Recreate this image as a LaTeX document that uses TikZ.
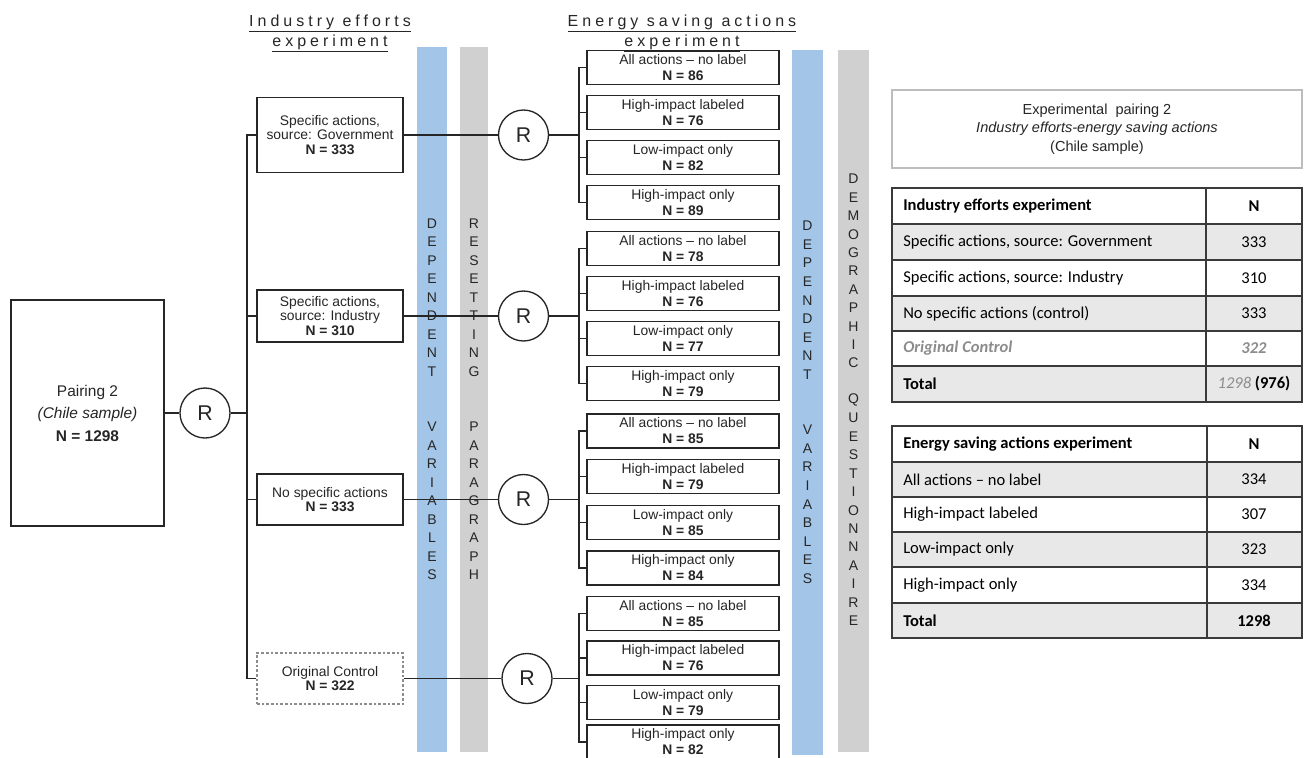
\documentclass[tikz,border=0pt]{standalone}
\usepackage{fontspec}
\setmainfont{Liberation Sans}
\newfontfamily\calfont[Ligatures=TeX]{Carlito}
\newfontfamily\spacedfont[LetterSpace=25]{Liberation Sans}
\usetikzlibrary{calc}

\definecolor{barblue}{HTML}{A3C6E8}
\definecolor{bargray}{HTML}{D0D0D0}
\definecolor{rowgray}{HTML}{E8E8E8}
\definecolor{ink}{HTML}{262626}
\definecolor{softgray}{HTML}{8C8C8C}
\definecolor{framegray}{HTML}{BDBDBD}
\definecolor{tabline}{HTML}{3A3A3A}

\tikzset{
  boxtext/.style={font=\fontsize{10.4}{10.6}\selectfont, text=ink, align=center, inner sep=0pt},
  ibox/.style={boxtext, draw=ink, line width=1pt, minimum width=109.5pt},
  ebox/.style={boxtext, draw=ink, line width=1.1pt, minimum width=144pt, minimum height=25.5pt,
    font=\fontsize{10.4}{12}\selectfont},
  rnode/.style={circle, draw=ink, line width=1pt, fill=white, minimum size=37.5pt, inner sep=0pt,
    font=\fontsize{16}{16}\selectfont, text=ink},
  conn/.style={draw=ink, line width=1pt},
  barletter/.style={font=\fontsize{10.5}{10.5}\selectfont, text=ink, inner sep=0pt},
  headtext/.style={font=\spacedfont\fontsize{12}{12}\selectfont, text=ink, inner sep=0pt, anchor=base},
  tcell/.style={font=\calfont\fontsize{12.4}{12.4}\selectfont, text=black, inner sep=0pt},
  tabrule/.style={draw=tabline, line width=1.1pt}
}

\begin{document}
\begin{tikzpicture}[x=0.75pt, y=-0.75pt]
\useasboundingbox (0,0) rectangle (1306,757);
\clip (0,0) rectangle (1306,757);
\fill[white] (0,0) rectangle (1306,757);

% column headings
\node[headtext] (h1a) at (330,26) {\underline{Industry efforts}};
\node[headtext] (h1b) at (330,46.5) {\underline{experiment}};
\node[headtext] (h2a) at (682,26) {\underline{Energy saving actions}};
\node[headtext] (h2b) at (682,46.5) {\underline{experiment}};

% vertical bands
\fill[barblue] (417,47) rectangle (447,752);
\fill[bargray] (460,47) rectangle (488,752);
\fill[barblue] (792,50) rectangle (823,755);
\fill[bargray] (838,50) rectangle (869,752);

\foreach \c [count=\i from 0] in {D,E,P,E,N,D,E,N,T}
  \node[barletter] (dva\i) at (432,{223.5+\i*18.5}) {\c};
\foreach \c [count=\i from 0] in {V,A,R,I,A,B,L,E,S}
  \node[barletter] (vva\i) at (432,{427+\i*18.5}) {\c};
\foreach \c [count=\i from 0] in {R,E,S,E,T,T,I,N,G}
  \node[barletter] (rsa\i) at (474,{223.5+\i*18.5}) {\c};
\foreach \c [count=\i from 0] in {P,A,R,A,G,R,A,P,H}
  \node[barletter] (pga\i) at (474,{427+\i*18.5}) {\c};
\foreach \c [count=\i from 0] in {D,E,P,E,N,D,E,N,T}
  \node[barletter] (dvb\i) at (807.5,{226+\i*18.55}) {\c};
\foreach \c [count=\i from 0] in {V,A,R,I,A,B,L,E,S}
  \node[barletter] (vvb\i) at (807.5,{430+\i*18.55}) {\c};
\foreach \c [count=\i from 0] in {D,E,M,O,G,R,A,P,H,I,C}
  \node[barletter] (dmg\i) at (853.5,{179+\i*18.4}) {\c};
\foreach \c [count=\i from 0] in {Q,U,E,S,T,I,O,N,N,A,I,R,E}
  \node[barletter] (qst\i) at (853.5,{399.8+\i*18.4}) {\c};

% full sample and first randomisation
\node[ibox, minimum width=114.75pt, minimum height=169.5pt, font=\fontsize{11.6}{16.9}\selectfont]
  (pair) at (87.5,413) {Pairing 2\\\textit{(Chile sample)}\\\textbf{N = 1298}};
\node[rnode] (r0) at (205,413) {R};
\coordinate (t0) at (247,413);

% industry efforts arms
\node[ibox, minimum height=56.25pt] (gov) at (330,135) {Specific actions,\\source: Government\\\textbf{N = 333}};
\node[ibox, minimum height=39pt] (ind) at (330,316) {Specific actions,\\source: Industry\\\textbf{N = 310}};
\node[ibox, minimum height=38.25pt] (nos) at (330,499.5) {No specific actions\\\textbf{N = 333}};
\node[ibox, draw=softgray, dash pattern=on 2pt off 1.5pt, minimum height=38.25pt] (orig) at (330,678.5)
  {Original Control\\\textbf{N = 322}};

% second randomisation
\node[rnode] (r1) at (523.5,135) {R};
\node[rnode] (r2) at (523.5,316) {R};
\node[rnode] (r3) at (523.5,499.5) {R};
\node[rnode] (r4) at (527,678.5) {R};
\coordinate (e1) at (579,135);
\coordinate (e2) at (579,316);
\coordinate (e3) at (579,499.5);
\coordinate (e4) at (579,678.5);

% energy saving actions arms
\node[ebox] (g1a) at (683,67.5) {All actions – no label\\\textbf{N = 86}};
\node[ebox] (g1b) at (683,112.5) {High-impact labeled\\\textbf{N = 76}};
\node[ebox] (g1c) at (683,157.5) {Low-impact only\\\textbf{N = 82}};
\node[ebox] (g1d) at (683,202.5) {High-impact only\\\textbf{N = 89}};

\node[ebox] (g2a) at (683,248.5) {All actions – no label\\\textbf{N = 78}};
\node[ebox] (g2b) at (683,293.5) {High-impact labeled\\\textbf{N = 76}};
\node[ebox] (g2c) at (683,338.5) {Low-impact only\\\textbf{N = 77}};
\node[ebox] (g2d) at (683,383.5) {High-impact only\\\textbf{N = 79}};

\node[ebox] (g3a) at (683,431) {All actions – no label\\\textbf{N = 85}};
\node[ebox] (g3b) at (683,476.5) {High-impact labeled\\\textbf{N = 79}};
\node[ebox] (g3c) at (683,522.5) {Low-impact only\\\textbf{N = 85}};
\node[ebox] (g3d) at (683,568) {High-impact only\\\textbf{N = 84}};

\node[ebox] (g4a) at (683,613.5) {All actions – no label\\\textbf{N = 85}};
\node[ebox] (g4b) at (683,658) {High-impact labeled\\\textbf{N = 76}};
\node[ebox] (g4c) at (683,702.5) {Low-impact only\\\textbf{N = 79}};
\node[ebox] (g4d) at (683,742) {High-impact only\\\textbf{N = 82}};

% connectors
\draw[conn] (pair) -- (r0);
\draw[conn] (r0) -- (t0);
\foreach \b in {gov,ind,nos,orig}
  \draw[conn] (\b.west) -| (t0);
\draw[conn] (gov) -- (r1);
\draw[conn] (ind) -- (r2);
\draw[conn] (nos) -- (r3);
\draw[conn] (orig) -- (r4);
\foreach \g in {1,2,3,4} {
  \draw[conn] (r\g) -- (e\g);
  \foreach \k in {a,b,c,d}
    \draw[conn] (g\g\k.west) -| (e\g);
}

% summary panel
\node[draw=framegray, line width=1.1pt, minimum width=307.5pt, minimum height=58.5pt, align=center,
  font=\fontsize{10.9}{13.9}\selectfont, text=ink, inner sep=0pt] (ttl) at (1097,129)
  {Experimental\ \ pairing 2\\\textit{Industry efforts-energy saving actions}\\(Chile sample)};

% table: industry efforts experiment
\foreach \ya/\yb/\cl in {188/224/white,224/260/rowgray,260/296/white,296/331/rowgray,331/366/white,366/402/rowgray}
  \fill[\cl] (892,\ya) rectangle (1302,\yb);
\draw[tabrule] (892,188) rectangle (1302,402);
\draw[tabrule] (1206,188) -- (1206,402);
\foreach \y in {224,260,296,331,366}
  \draw[tabrule] (892,\y) -- (1302,\y);
\node[tcell, anchor=west] (ia0) at (903,206) {\bfseries Industry efforts experiment};
\node[tcell] (in0) at (1254,206) {\bfseries N};
\node[tcell, anchor=west] (ia1) at (903,242) {Specific actions, source: Government};
\node[tcell] (in1) at (1254,242) {333};
\node[tcell, anchor=west] (ia2) at (903,278) {Specific actions, source: Industry};
\node[tcell] (in2) at (1254,278) {310};
\node[tcell, anchor=west] (ia3) at (903,313.5) {No specific actions (control)};
\node[tcell] (in3) at (1254,313.5) {333};
\node[tcell, anchor=west, text=softgray] (ia4) at (903,348.5) {\bfseries\itshape Original Control};
\node[tcell, text=softgray] (in4) at (1254,348.5) {\bfseries\itshape 322};
\node[tcell, anchor=west] (ia5) at (903,384) {\bfseries Total};
\node[tcell] (in5) at (1254,384) {\textcolor{softgray}{\itshape 1298} \textbf{(976)}};

% table: energy saving actions experiment
\foreach \ya/\yb/\cl in {426/462/white,462/497/rowgray,497/532/white,532/567/rowgray,567/603/white,603/638/rowgray}
  \fill[\cl] (892,\ya) rectangle (1302,\yb);
\draw[tabrule] (892,426) rectangle (1302,638);
\draw[tabrule] (1207,426) -- (1207,638);
\foreach \y in {462,497,532,567,603}
  \draw[tabrule] (892,\y) -- (1302,\y);
\node[tcell, anchor=west] (ea0) at (903,444) {\bfseries Energy saving actions experiment};
\node[tcell] (en0) at (1254,444) {\bfseries N};
\node[tcell, anchor=west] (ea1) at (903,479.5) {All actions – no label};
\node[tcell] (en1) at (1254,479.5) {334};
\node[tcell, anchor=west] (ea2) at (903,514.5) {High-impact labeled};
\node[tcell] (en2) at (1254,514.5) {307};
\node[tcell, anchor=west] (ea3) at (903,549.5) {Low-impact only};
\node[tcell] (en3) at (1254,549.5) {323};
\node[tcell, anchor=west] (ea4) at (903,585) {High-impact only};
\node[tcell] (en4) at (1254,585) {334};
\node[tcell, anchor=west] (ea5) at (903,620.5) {\bfseries Total};
\node[tcell] (en5) at (1254,620.5) {\bfseries 1298};
\end{tikzpicture}
\end{document}
